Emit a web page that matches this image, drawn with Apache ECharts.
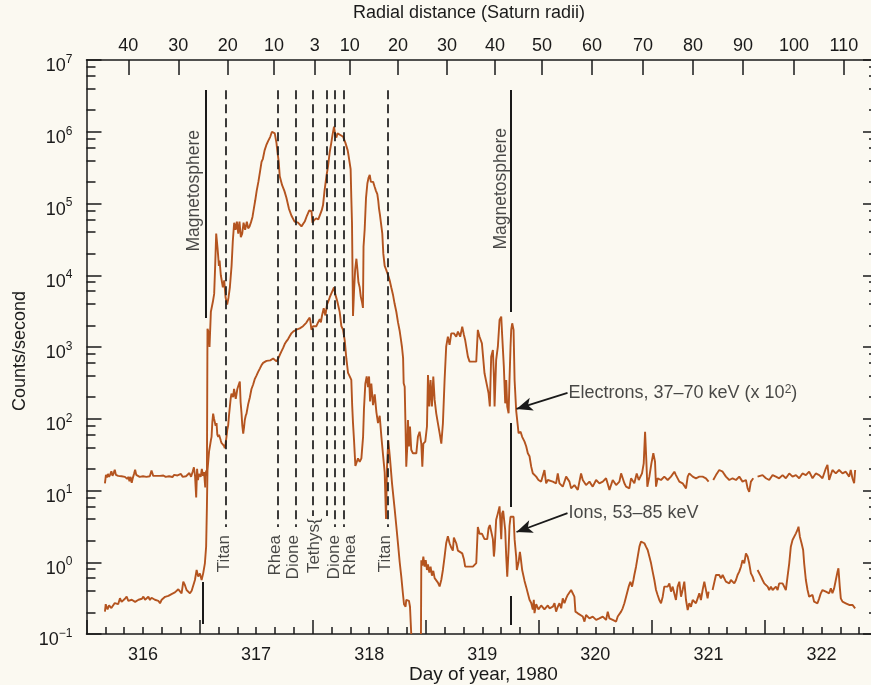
<!DOCTYPE html>
<html><head><meta charset="utf-8">
<script src="https://cdn.jsdelivr.net/npm/echarts@6/dist/echarts.min.js"></script>
<style>html,body{margin:0;padding:0;background:#fbf9f1;}#c{width:871px;height:685px;}</style>
</head><body><div id="c"></div>
<script>
// ---------- axes / ticks ----------
const dayRange = [315.5, 322.5];
const radialTickDays = [315.870, 316.312, 316.749, 317.158, 317.519, 317.829, 318.255, 318.688, 319.113, 319.528, 319.971, 320.422, 320.864, 321.306, 321.757, 322.199];
const radialTickLabels = ['40','30','20','10','3','10','20','30','40','50','60','70','80','90','100','110'];
const decadeRange = [-1, 7];
const minorMantissas = [2, 4, 6, 8];

// ---------- data: [day of year, counts/second] ----------
const electrons = [
[315.663,12.6],[315.672,16.5],[315.681,15.2],[315.690,17],[315.700,15.5],[315.710,16.8],[315.720,18.5],[315.730,16],[315.740,17.5],[315.750,19.5],[315.760,16.5],[315.770,17],[315.780,16],[315.795,17],[315.810,15.8],[315.825,16.5],[315.840,15.5],[315.850,16],[315.860,14.5],[315.870,15.5],[315.880,13.5],[315.890,15.5],[315.900,12.8],[315.910,15],[315.920,17],[315.930,19.5],[315.940,16.5],[315.955,16.2],[315.970,15.5],[315.985,16],[316.000,15.8],[316.015,16.2],[316.030,15.5],[316.045,16],[316.060,15.8],[316.075,19],[316.090,16],[316.105,15.6],[316.120,16],[316.135,15.4],[316.150,16],[316.165,15.7],[316.180,16.2],[316.200,15.5],[316.215,16],[316.230,15.8],[316.245,16.5],[316.260,15.4],[316.275,16.5],[316.290,15.5],[316.305,16.2],[316.320,15.8],[316.335,17],[316.350,15.5],[316.365,16.5],[316.380,15.8],[316.395,16.4],[316.410,17.5],[316.425,15.5],[316.440,18.5],[316.450,21],[316.460,16],[316.470,8],[316.478,20],[316.486,14],[316.494,17],[316.502,18],[316.510,15.5],[316.520,20],[316.530,16],[316.540,18],[316.550,11],[316.558,19],[316.565,16],
[316.570,1800],[316.580,1600],[316.588,1000],[316.600,3100],[316.618,4300],[316.629,5500],[316.638,13500],[316.647,38000],[316.659,24000],[316.671,13500],[316.677,16000],[316.688,10000],[316.706,6800],[316.718,8500],[316.730,4900],[316.744,3900],[316.756,4900],[316.768,6800],[316.783,13500],[316.794,30000],[316.806,54000],[316.818,43000],[316.830,56000],[316.842,38000],[316.853,56000],[316.865,34000],[316.877,38000],[316.889,54000],[316.903,43000],[316.918,56000],[316.930,45000],[316.942,48000],
[316.955,55000],[316.968,65000],[316.980,85000],[316.992,110000],[317.005,150000],[317.020,200000],[317.035,280000],[317.048,380000],[317.060,420000],[317.075,550000],[317.090,650000],[317.106,740000],[317.125,850000],[317.140,1000000],[317.151,1050000],[317.165,950000],[317.171,930000],[317.180,700000],[317.189,520000],[317.200,380000],[317.209,240000],[317.230,180000],[317.250,150000],[317.268,120000],[317.290,85000],[317.312,68000],[317.340,56000],[317.371,54000],[317.401,48000],[317.430,56000],[317.450,68000],[317.470,80000],[317.480,85000],[317.490,78000],[317.498,54000],[317.510,58000],[317.530,62000],[317.550,60000],[317.563,63000],[317.580,80000],[317.592,95000],[317.605,150000],[317.622,240000],[317.636,330000],[317.651,520000],[317.665,700000],[317.675,890000],[317.689,1180000],[317.700,900000],[317.710,830000],[317.720,950000],[317.730,930000],[317.745,900000],[317.760,890000],[317.770,850000],[317.778,800000],[317.790,700000],[317.798,660000],[317.810,550000],[317.819,450000],[317.836,300000],[317.842,120000],[317.848,54000],[317.857,2700],[317.862,4200],[317.866,6000],[317.876,12000],[317.887,17000],[317.896,12000],[317.905,8000],[317.916,6800],[317.926,5000],[317.937,4200],[317.945,3500],[317.950,25000],[317.960,43000],[317.972,120000],[317.984,190000],[317.995,230000],[318.005,250000],[318.015,200000],[318.025,190000],[318.035,200000],[318.049,170000],[318.060,150000],[318.072,135000],[318.080,110000],[318.087,85000],[318.095,70000],[318.101,68000],[318.116,38000],[318.125,20000],[318.137,13500],[318.150,12000],[318.160,11500],[318.172,9500],[318.181,8500],[318.195,6800],[318.210,5400],[318.225,4000],[318.240,3100],[318.255,2200],[318.269,1700],[318.280,1300],[318.290,1000],[318.300,700],[318.305,312],[318.314,280],[318.322,70],[318.328,21.5],[318.337,41],[318.343,96],[318.352,41],[318.361,78],[318.372,37],[318.387,33],[318.417,33],[318.431,56],[318.446,66],[318.461,45],[318.470,21.5],[318.479,45],[318.496,48],[318.511,78],[318.520,407],[318.532,148],[318.543,347],[318.555,148],[318.567,386],[318.579,183],[318.593,119],[318.608,86],[318.623,63],[318.638,45],[318.652,86],[318.667,347],[318.681,1010],[318.696,1390],[318.711,1070],[318.726,1550],[318.749,1550],[318.770,1390],[318.785,1640],[318.805,1390],[318.823,1920],[318.838,1470],[318.849,1250],[318.873,733],[318.888,625],[318.917,625],[318.947,625],[318.961,1730],[318.976,1390],[318.997,1125],[319.020,430],[319.044,280],[319.056,226],[319.067,148],[319.079,733],[319.094,908],[319.103,386],[319.109,148],[319.123,659],[319.138,1010],[319.153,2380],[319.168,2650],[319.176,1470],[319.191,532],[319.203,164],[319.212,347],[319.221,148],[319.233,119],[319.241,347],[319.250,1010],[319.256,1730],[319.265,2140],[319.277,1730],[319.286,347],[319.300,130],[319.315,78],[319.321,63],[319.339,66],[319.353,56],[319.374,48],[319.389,41],[319.403,33],[319.418,30],[319.433,21.5],[319.447,17.4],[319.477,15.6],[319.497,14],[319.521,13.3],[319.550,19.3],[319.565,12.6],[319.580,14],
[319.595,14.0],[319.624,13.3],[319.653,12.6],[319.668,17.3],[319.683,12.6],[319.712,11.3],[319.742,15.6],[319.771,13.3],[319.786,10.7],[319.815,11.9],[319.845,10.2],[319.874,17.3],[319.889,14.0],[319.918,11.9],[319.948,13.3],[319.977,11.3],[320.007,14.0],[320.036,12.6],[320.066,13.3],[320.095,14.8],[320.125,10.2],[320.154,14.0],[320.184,11.9],[320.213,13.3],[320.228,17.3],[320.257,12.6],[320.272,11.3],[320.301,10.7],[320.316,14.8],[320.345,12.6],[320.366,17.3],[320.384,14.0],[320.413,17.3],[320.428,23.9],[320.440,66],[320.451,26.6],[320.460,11.3],[320.478,15.6],[320.496,23.9],[320.513,33],[320.528,25.2],[320.537,11.3],[320.551,14.8],[320.581,14.0],[320.610,15.6],[320.640,14.0],[320.669,15.6],[320.699,18.3],[320.713,16.4],[320.743,13.3],[320.772,12.6],[320.802,10.7],[320.817,15.6],[320.831,17.3],[320.861,15.6],[320.890,14.8],[320.920,15.6],[320.949,15.6],[320.978,14.8],[321.002,13.3],[321.020,null],
[321.043,14.0],[321.067,16.4],[321.096,19.3],[321.126,18.3],[321.155,15.6],[321.185,14.0],[321.214,14.8],[321.244,14.0],[321.273,15.6],[321.302,13.3],[321.332,14.0],[321.347,10.7],[321.361,9.6],[321.376,13.3],[321.397,14.8],[321.420,null],
[321.435,15.6],[321.450,14.8],[321.479,16.4],[321.509,14.8],[321.538,14.0],[321.568,16.4],[321.597,15.6],[321.626,14.8],[321.656,16.4],[321.685,14.8],[321.715,17.3],[321.744,15.6],[321.774,16.4],[321.803,14.8],[321.832,17.3],[321.862,16.4],[321.891,18.3],[321.921,14.8],[321.950,17.3],[321.980,16.4],[322.009,14.8],[322.039,20.4],[322.053,22.7],[322.068,14.0],[322.097,19.3],[322.127,17.3],[322.156,19.3],[322.186,17.3],[322.215,18.3],[322.245,15.6],[322.259,19.3],[322.274,14.8],[322.289,12.6],[322.298,19.3]
];

const ions = [
[315.663,0.205],[315.670,0.26],[315.678,0.268],[315.686,0.22],[315.693,0.216],[315.700,0.25],[315.708,0.254],[315.720,0.23],[315.737,0.24],[315.750,0.27],[315.767,0.283],[315.780,0.26],[315.796,0.315],[315.810,0.28],[315.826,0.298],[315.840,0.31],[315.855,0.332],[315.870,0.29],[315.885,0.298],[315.900,0.3],[315.914,0.315],[315.930,0.28],[315.944,0.268],[315.960,0.3],[315.973,0.298],[315.990,0.31],[316.003,0.332],[316.018,0.3],[316.032,0.315],[316.047,0.33],[316.061,0.298],[316.075,0.32],[316.091,0.315],[316.105,0.3],[316.120,0.283],[316.135,0.29],[316.150,0.268],[316.165,0.3],[316.179,0.315],[316.195,0.33],[316.208,0.332],[316.224,0.34],[316.238,0.35],[316.252,0.36],[316.267,0.369],[316.282,0.38],[316.297,0.39],[316.312,0.42],[316.326,0.434],[316.341,0.369],[316.356,0.537],[316.370,0.482],[316.385,0.411],[316.400,0.39],[316.415,0.369],[316.430,0.40],[316.444,0.411],[316.459,0.566],[316.474,0.78],[316.488,0.63],[316.503,0.70],[316.518,0.566],[316.532,0.70],[316.547,0.967],[316.558,1.65],[316.565,6],
[316.570,19],[316.576,19],[316.584,35],[316.591,41],[316.600,50],[316.606,56],[316.613,90],[316.620,118],[316.628,100],[316.635,95],[316.642,80],[316.650,87],[316.657,60],[316.665,56],[316.672,60],[316.679,59],[316.687,50],[316.694,46],[316.702,44],[316.709,47],[316.716,42],[316.723,39],[316.730,45],[316.738,56],[316.745,70],[316.753,81],[316.760,110],[316.768,148],[316.775,190],[316.782,224],[316.790,215],[316.797,200],[316.805,260],[316.812,250],[316.820,190],[316.827,200],[316.834,260],[316.841,282],[316.848,300],[316.856,331],[316.863,170],[316.871,120],[316.878,80],[316.886,62],[316.893,75],[316.900,96],[316.908,110],[316.915,118],[316.930,160],[316.945,200],[316.959,260],[316.974,300],[316.989,360],[317.003,400],[317.018,450],[317.033,500],[317.048,560],[317.062,600],[317.077,620],[317.092,640],[317.106,660],[317.125,650],[317.151,690],[317.165,660],[317.180,630],[317.195,690],[317.210,780],[317.224,870],[317.240,980],[317.253,1100],[317.268,1200],[317.283,1290],[317.298,1420],[317.312,1550],[317.330,1650],[317.356,1740],[317.386,1820],[317.415,1950],[317.430,2050],[317.445,2190],[317.460,2400],[317.474,2570],[317.480,2300],[317.489,1740],[317.504,1950],[317.520,1900],[317.533,1950],[317.548,2200],[317.563,2450],[317.573,2200],[317.583,2750],[317.598,3470],[317.606,3000],[317.613,2750],[317.627,3890],[317.640,4400],[317.651,4900],[317.662,5400],[317.672,5750],[317.689,6760],[317.701,5370],[317.710,4800],[317.719,4270],[317.739,3090],[317.754,1950],[317.769,1740],[317.784,1230],[317.798,692],[317.813,437],[317.828,389],[317.842,347],[317.850,150],[317.857,87],[317.866,50],[317.878,22],[317.890,22],[317.901,28],[317.916,25],[317.931,28],[317.946,56],[317.954,138],[317.966,309],[317.978,389],[317.990,275],[317.999,389],[318.008,174],[318.019,309],[318.034,155],[318.049,219],[318.064,123],[318.078,87],[318.093,110],[318.108,56],[318.122,32],[318.137,18],[318.149,4],[318.158,22],[318.169,50],[318.184,28],[318.202,12.6],[318.225,5.6],[318.240,3.2],[318.255,1.8],[318.270,1.0],[318.284,0.63],[318.298,0.37],[318.308,0.26],[318.322,0.24],[318.328,0.30],[318.343,0.30],[318.352,0.29],[318.361,0.24],[318.372,0.1],[318.410,null],[318.458,0.1],
[318.461,1.07],[318.470,0.9],[318.479,1.2],[318.490,0.87],[318.500,1.07],[318.511,0.78],[318.520,0.93],[318.532,0.72],[318.543,0.87],[318.555,0.65],[318.567,0.76],[318.579,0.6],[318.593,0.57],[318.608,0.52],[318.623,0.46],[318.638,0.57],[318.652,0.78],[318.667,1.2],[318.681,1.84],[318.696,2.3],[318.711,1.84],[318.726,1.6],[318.740,1.45],[318.749,2.2],[318.770,1.84],[318.785,1.45],[318.800,1.4],[318.823,1.33],[318.838,1.1],[318.849,0.87],[318.873,0.87],[318.888,0.82],[318.917,0.87],[318.947,0.97],[318.961,3.1],[318.976,2.5],[318.997,2.5],[319.020,2.1],[319.044,2.1],[319.056,3.0],[319.067,3.3],[319.079,3.3],[319.094,2.1],[319.103,1.2],[319.109,1.5],[319.123,3.9],[319.138,4.8],[319.153,6],[319.168,2.1],[319.176,4.8],[319.185,5.2],[319.203,2.8],[319.212,1.2],[319.221,0.63],[319.233,1.5],[319.241,3.2],[319.250,4.3],[319.265,4.4],[319.277,4.3],[319.286,2.1],[319.300,1.2],[319.306,0.78],[319.321,1.0],[319.333,1.4],[319.339,1.2],[319.353,0.78],[319.374,0.55],[319.389,0.45],[319.403,0.37],[319.418,0.3],[319.433,0.27],[319.447,0.22],[319.456,0.3],[319.462,0.195],[319.477,0.26],[319.497,0.22],[319.521,0.25],[319.550,0.22],[319.580,0.25],
[319.595,0.228],[319.624,0.240],[319.639,0.268],[319.653,0.205],[319.668,0.240],[319.683,0.268],[319.698,0.228],[319.712,0.314],[319.727,0.268],[319.742,0.314],[319.756,0.350],[319.771,0.369],[319.786,0.410],[319.801,0.433],[319.815,0.331],[319.824,0.205],[319.845,0.194],[319.860,0.184],[319.889,0.175],[319.904,0.149],[319.918,0.184],[319.948,0.165],[319.977,0.175],[320.007,0.157],[320.036,0.165],[320.066,0.175],[320.095,0.157],[320.110,0.205],[320.125,0.165],[320.154,0.157],[320.184,0.149],[320.198,0.175],[320.213,0.165],[320.228,0.205],[320.242,0.228],[320.257,0.268],[320.272,0.331],[320.295,0.457],[320.310,0.536],[320.325,0.457],[320.337,0.566],[320.345,0.664],[320.360,0.867],[320.375,1.20],[320.390,1.65],[320.404,1.94],[320.419,2.04],[320.434,1.84],[320.448,1.65],[320.463,1.48],[320.478,1.20],[320.493,0.966],[320.507,0.740],[320.522,0.566],[320.537,0.410],[320.551,0.350],[320.566,0.298],[320.581,0.268],[320.596,0.331],[320.610,0.457],[320.625,0.482],[320.640,0.457],[320.655,0.508],[320.669,0.389],[320.684,0.457],[320.699,0.482],[320.713,0.298],[320.728,0.457],[320.743,0.536],[320.758,0.331],[320.772,0.410],[320.787,0.536],[320.802,0.298],[320.817,0.216],[320.831,0.268],[320.846,0.240],[320.861,0.298],[320.875,0.314],[320.890,0.268],[320.905,0.314],[320.920,0.369],[320.934,0.298],[320.949,0.410],[320.964,0.536],[320.978,0.508],[320.993,0.314],[321.002,0.389],[321.020,null],
[321.037,0.410],[321.052,0.433],[321.067,0.664],[321.082,0.701],[321.096,0.664],[321.111,0.597],[321.126,0.664],[321.140,0.630],[321.155,0.536],[321.170,0.536],[321.185,0.508],[321.199,0.566],[321.214,0.536],[321.229,0.508],[321.244,0.566],[321.258,0.664],[321.273,0.740],[321.288,0.867],[321.302,1.07],[321.317,0.966],[321.332,1.33],[321.347,1.20],[321.361,0.966],[321.376,0.701],[321.391,0.630],[321.406,0.536],[321.420,null],
[321.435,0.780],[321.450,0.740],[321.465,0.630],[321.479,0.566],[321.494,0.508],[321.509,0.482],[321.524,0.457],[321.538,0.410],[321.553,0.457],[321.568,0.410],[321.583,0.389],[321.597,0.457],[321.612,0.410],[321.626,0.508],[321.641,0.482],[321.656,0.508],[321.671,0.482],[321.685,0.410],[321.700,0.630],[321.715,0.966],[321.729,1.65],[321.744,2.04],[321.759,1.94],[321.774,2.53],[321.788,2.82],[321.797,3.13],[321.809,2.27],[321.824,1.84],[321.838,1.48],[321.847,0.966],[321.862,0.566],[321.877,0.410],[321.891,0.331],[321.906,0.314],[321.921,0.350],[321.935,0.282],[321.950,0.298],[321.965,0.268],[321.980,0.314],[321.994,0.369],[322.009,0.410],[322.024,0.433],[322.039,0.389],[322.053,0.410],[322.068,0.369],[322.083,0.433],[322.097,0.369],[322.112,0.433],[322.127,0.566],[322.142,0.740],[322.150,0.822],[322.162,0.457],[322.171,0.314],[322.186,0.282],[322.200,0.268],[322.215,0.268],[322.230,0.282],[322.245,0.254],[322.259,0.268],[322.274,0.254],[322.289,0.240],[322.298,0.228]
];

// ---------- annotations ----------
const moonLineDays = [316.731, 317.194, 317.350, 317.503, 317.624, 317.692, 317.777, 318.160];
const moonLineTops = [3.8e6, 3.8e6, 3.8e6, 3.8e6, 3.8e6, 3.8e6, 3.8e6, 3.8e6];
const moonLineBottoms = [3.1, 3.1, 3.1, 4.4, 4.4, 3.1, 3.1, 3.1];
const moonNames = ['Titan', 'Rhea', 'Dione', 'Tethys{', 'Dione', 'Rhea', 'Titan'];
const moonLabelDays = [316.720, 317.167, 317.330, 317.513, 317.692, 317.830, 318.145];
const moonLabelTops = [2.4, 2.4, 2.4, 4.1, 2.4, 2.4, 2.4];
const boundarySegments = [
  [316.555, 3.82e6, 2.53e3], [316.532, 0.531, 0.138],
  [319.254, 3.82e6, 3.08e3], [319.254, 87.3, 5.89], [319.254, 0.339, 0.1334]
];
const boundaryLabelDays = [316.455, 319.165];
const boundaryLabelTops = [1.06e6, 1.13e6];
const arrowStarts = [[319.754, 229], [319.754, 4.85]];
const arrowTips = [[319.303, 137], [319.303, 2.64]];
const arrowTexts = ['Electrons, 37\u201370 keV (x 10{s|2})', 'Ions, 53\u201385 keV'];

// ---------- build ----------
const INK = '#1a1a1a';
const CURVE = '#b4541f';
const FONT = 'Liberation Sans';
const minorLogs = [];
for (let e = decadeRange[0]; e < decadeRange[1]; e++) minorMantissas.forEach(m => minorLogs.push(+(e + Math.log10(m)).toFixed(5)));
const supText = v => (v < 0 ? '\u2212' + (-v) : String(v));

const chart = echarts.init(document.getElementById('c'), null, {renderer: 'canvas'});
const baseY = {min: decadeRange[0], max: decadeRange[1], interval: 1, type: 'value', splitLine: {show: false}};
const tickStyle = {color: INK, width: 1.5};
const option = {
  backgroundColor: '#fbf9f1',
  animation: false,
  textStyle: {fontFamily: FONT, color: INK},
  grid: {left: 86.5, top: 60, width: 791.5, height: 574, containLabel: false, outerBoundsMode: 'none'},
  xAxis: [
    {type: 'value', position: 'bottom', min: dayRange[0], max: dayRange[1], interval: 1/6,
     axisLine: {show: true, onZero: false, lineStyle: {color: INK, width: 1.5}},
     axisTick: {show: true, inside: true, length: 7, lineStyle: tickStyle},
     axisLabel: {show: true, interval: 0, margin: 12, fontSize: 18, color: INK, fontFamily: FONT,
       formatter: v => (Math.abs(v - Math.round(v)) < 1e-4 && Math.round(v) > 315 && Math.round(v) < 323) ? String(Math.round(v)) : ''},
     splitLine: {show: false}},
    {type: 'value', position: 'bottom', min: dayRange[0], max: dayRange[1], interval: 1,
     axisLine: {show: false, onZero: false}, axisLabel: {show: false}, splitLine: {show: false},
     axisTick: {show: true, inside: true, length: 14, lineStyle: tickStyle}},
    {type: 'value', position: 'top', min: dayRange[0], max: dayRange[1],
     axisLine: {show: true, onZero: false, lineStyle: {color: INK, width: 1.5}},
     axisTick: {show: true, inside: true, length: 15, customValues: radialTickDays, lineStyle: tickStyle},
     axisLabel: {show: true, margin: 5, fontSize: 18, color: INK, fontFamily: FONT, customValues: radialTickDays,
       formatter: v => { const i = radialTickDays.findIndex(d => Math.abs(d - v) < 1e-6); return i >= 0 ? radialTickLabels[i] : ''; }},
     splitLine: {show: false}}
  ],
  yAxis: [
    {type: 'log', logBase: 10, min: 0.1, max: 1e7, position: 'left',
     axisLine: {show: true, onZero: false, lineStyle: {color: INK, width: 1.5}}, axisTick: {show: false}, axisLabel: {show: false}, splitLine: {show: false}},
    Object.assign({}, baseY, {position: 'left', axisLine: {show: false, onZero: false},
     axisTick: {show: true, inside: true, length: 15, lineStyle: tickStyle},
     axisLabel: {show: true, margin: 14, color: INK, fontFamily: FONT, padding: [9, 0, 0, 0],
       formatter: v => '{b|10}{s|' + supText(v) + '}',
       rich: {b: {fontSize: 18, fontFamily: FONT, color: INK, verticalAlign: 'bottom', lineHeight: 22},
              s: {fontSize: 12, fontFamily: FONT, color: INK, verticalAlign: 'top', lineHeight: 12}}}}),
    Object.assign({}, baseY, {position: 'left', axisLine: {show: false, onZero: false}, axisLabel: {show: false},
     axisTick: {show: true, inside: true, length: 9, customValues: minorLogs, lineStyle: tickStyle}}),
    Object.assign({}, baseY, {position: 'right', axisLine: {show: true, onZero: false, lineStyle: {color: INK, width: 1.5}}, axisLabel: {show: false},
     axisTick: {show: true, inside: true, length: 15, lineStyle: tickStyle}}),
    Object.assign({}, baseY, {position: 'right', axisLine: {show: false, onZero: false}, axisLabel: {show: false},
     axisTick: {show: true, inside: true, length: 9, customValues: minorLogs, lineStyle: tickStyle}})
  ],
  graphic: [
    {type: 'text', left: 353, top: 4, style: {text: 'Radial distance (Saturn radii)', font: '18px "Liberation Sans"', fill: INK}},
    {type: 'text', left: 409, top: 665, style: {text: 'Day of year, 1980', font: '19px "Liberation Sans"', fill: INK}},
    {type: 'text', x: 11, y: 411, rotation: Math.PI / 2, style: {text: 'Counts/second', font: '18px "Liberation Sans"', fill: INK}}
  ],
  series: [
    {name: 'Electrons', type: 'line', xAxisIndex: 0, yAxisIndex: 0, data: electrons, showSymbol: false, symbol: 'none',
     connectNulls: false, lineStyle: {color: CURVE, width: 1.9}, itemStyle: {color: CURVE}, silent: true},
    {name: 'Ions', type: 'line', xAxisIndex: 0, yAxisIndex: 0, data: ions, showSymbol: false, symbol: 'none',
     connectNulls: false, lineStyle: {color: CURVE, width: 1.9}, itemStyle: {color: CURVE}, silent: true},
    {name: 'moonLines', type: 'line', xAxisIndex: 0, yAxisIndex: 0, data: [], silent: true,
     markLine: {silent: true, symbol: ['none', 'none'], label: {show: false}, animation: false,
       lineStyle: {color: INK, width: 1.7, type: [9, 5]},
       data: moonLineDays.map((d, i) => [{coord: [d, moonLineTops[i]]}, {coord: [d, moonLineBottoms[i]]}])}},
    {name: 'boundaries', type: 'line', xAxisIndex: 0, yAxisIndex: 0, data: [], silent: true,
     markLine: {silent: true, symbol: ['none', 'none'], label: {show: false}, animation: false,
       lineStyle: {color: INK, width: 2, type: 'solid'},
       data: boundarySegments.map(s => [{coord: [s[0], s[1]]}, {coord: [s[0], s[2]]}])}},
    {name: 'arrows', type: 'line', xAxisIndex: 0, yAxisIndex: 0, data: [], silent: true,
     markLine: {silent: true, symbol: ['none', 'arrow'], symbolSize: [10, 16], label: {show: false}, animation: false,
       lineStyle: {color: INK, width: 1.8, type: 'solid'}, itemStyle: {color: INK},
       data: arrowStarts.map((s, i) => [{coord: s}, {coord: arrowTips[i]}])}},
    {name: 'moonLabels', type: 'scatter', xAxisIndex: 0, yAxisIndex: 0, symbolSize: 0, silent: true,
     data: moonNames.map((n, i) => ({name: n, value: [moonLabelDays[i], moonLabelTops[i]]})),
     label: {show: true, position: 'inside', rotate: 90, align: 'right', verticalAlign: 'middle',
       formatter: p => p.name, fontSize: 17, fontFamily: FONT, color: INK}},
    {name: 'boundaryLabels', type: 'scatter', xAxisIndex: 0, yAxisIndex: 0, symbolSize: 0, silent: true,
     data: boundaryLabelDays.map((d, i) => ({name: 'Magnetosphere', value: [d, boundaryLabelTops[i]]})),
     label: {show: true, position: 'inside', rotate: 90, align: 'right', verticalAlign: 'middle',
       formatter: p => p.name, fontSize: 17.5, fontFamily: FONT, color: INK}},
    {name: 'arrowLabels', type: 'scatter', xAxisIndex: 0, yAxisIndex: 0, symbolSize: 0, silent: true,
     data: arrowTexts.map((t, i) => ({name: t, value: arrowStarts[i]})),
     label: {show: true, position: 'right', distance: 1, align: 'left', verticalAlign: 'middle',
       formatter: p => p.name, fontSize: 18, fontFamily: FONT, color: INK,
       rich: {s: {fontSize: 12, fontFamily: FONT, color: INK, verticalAlign: 'top', lineHeight: 12}}}}
  ]
};
chart.setOption(option);
</script>
</body></html>
